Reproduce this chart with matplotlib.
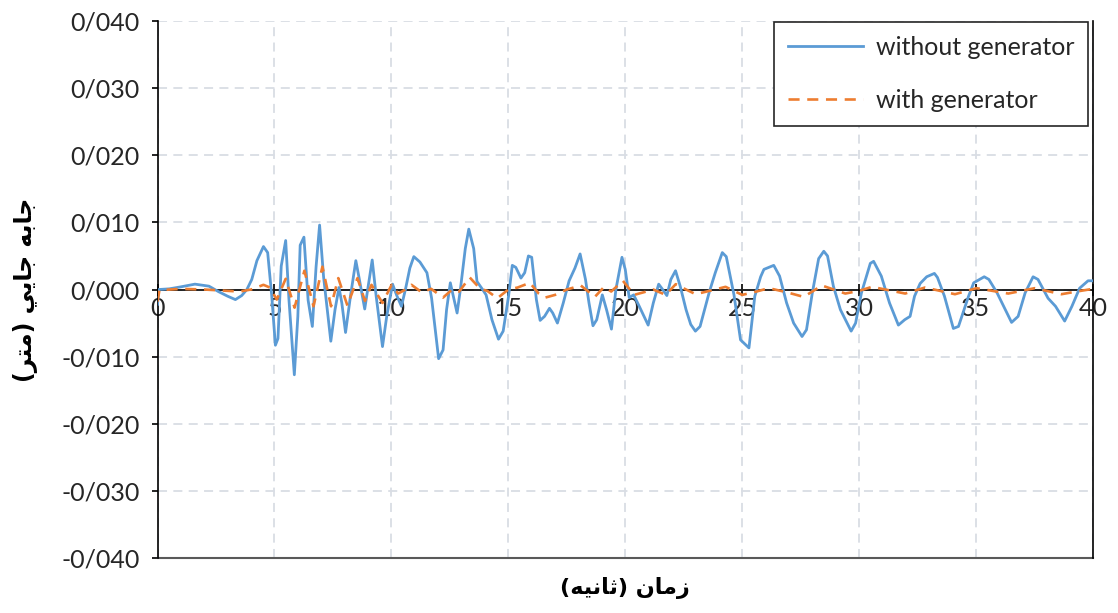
import numpy as np
import matplotlib.pyplot as plt
from matplotlib.ticker import FuncFormatter, MultipleLocator

# Jabejayi (m) - bedun-e va ba generator
t_without = [0, 0.05, 0.5, 1.0, 1.6, 2.2, 2.6, 3.0, 3.33, 3.6, 3.82, 4.03, 4.25, 4.53, 4.71,
             4.88, 5.04, 5.15, 5.29, 5.48, 5.62, 5.85, 6.0, 6.1, 6.26, 6.44, 6.62, 6.78, 6.93,
             7.1, 7.41, 7.59, 7.76, 7.88, 8.04, 8.25, 8.48, 8.61, 8.86, 9.18, 9.35, 9.62, 9.8,
             10.05, 10.22, 10.43, 10.6, 10.79, 10.96, 11.22, 11.52, 11.72, 12.02, 12.21, 12.36,
             12.52, 12.81, 12.95, 13.16, 13.31, 13.52, 13.66, 13.9, 14.05, 14.3, 14.58, 14.78,
             15.01, 15.17, 15.32, 15.54, 15.7, 15.86, 16.0, 16.2, 16.36, 16.55, 16.76, 16.9,
             17.1, 17.35, 17.6, 17.85, 18.07, 18.3, 18.45, 18.62, 18.78, 19.02, 19.2, 19.41,
             19.6, 19.86, 20.0, 20.17, 20.36, 20.6, 20.98, 21.2, 21.43, 21.6, 21.78, 21.95,
             22.15, 22.35, 22.6, 22.8, 23.0, 23.2, 23.6, 23.85, 24.15, 24.32, 24.65, 24.93,
             25.29, 25.54, 25.79, 25.93, 26.35, 26.6, 26.9, 27.2, 27.56, 27.75, 28.0, 28.27,
             28.49, 28.65, 28.9, 29.2, 29.66, 29.85, 30.1, 30.48, 30.62, 30.95, 31.3, 31.68,
             31.95, 32.18, 32.37, 32.61, 32.89, 33.22, 33.35, 33.65, 34.03, 34.25, 34.67, 34.9,
             35.35, 35.55, 35.9, 36.52, 36.8, 37.1, 37.44, 37.65, 38.08, 38.4, 38.79, 39.1,
             39.43, 39.79, 40.0]
d_without = [-0.0022, 0.0, 0.0001, 0.0004, 0.0008, 0.0005, -0.0003, -0.0010, -0.0015, -0.0009,
             0.0, 0.0015, 0.0043, 0.0064, 0.0055, -0.0008, -0.0083, -0.0073, 0.0035, 0.0073,
             -0.0015, -0.0127, -0.0040, 0.0066, 0.0078, -0.0016, -0.0055, 0.0034, 0.0096,
             0.0019, -0.0077, -0.0030, 0.0003, -0.0020, -0.0064, -0.0010, 0.0043, 0.0019,
             -0.0029, 0.0044, -0.0010, -0.0085, -0.0040, 0.0008, -0.0008, -0.0025, 0.0, 0.0032,
             0.0049, 0.0041, 0.0025, -0.0013, -0.0103, -0.0090, -0.0030, 0.0010, -0.0035, 0.0,
             0.0061, 0.0090, 0.0061, 0.0012, 0.0, -0.0008, -0.0045, -0.0074, -0.0062, -0.0010,
             0.0036, 0.0033, 0.0017, 0.0025, 0.0050, 0.0048, -0.0015, -0.0046, -0.0040,
             -0.0028, -0.0035, -0.0050, -0.0020, 0.0013, 0.0032, 0.0053, 0.0015, -0.0020,
             -0.0054, -0.0045, -0.0008, -0.0030, -0.0059, 0.0, 0.0048, 0.0030, -0.0012,
             -0.0008, -0.0025, -0.0053, -0.0020, 0.0008, 0.0, -0.0009, 0.0015, 0.0028, 0.0005,
             -0.0030, -0.0052, -0.0062, -0.0055, -0.0003, 0.0025, 0.0055, 0.0049, -0.0008,
             -0.0075, -0.0087, -0.0010, 0.0019, 0.0030, 0.0036, 0.0020, -0.0020, -0.0050,
             -0.0070, -0.0060, -0.0005, 0.0046, 0.0057, 0.0050, 0.0005, -0.0030, -0.0062,
             -0.0050, -0.0005, 0.0039, 0.0042, 0.0020, -0.0020, -0.0053, -0.0045, -0.0040,
             -0.0010, 0.0009, 0.0019, 0.0024, 0.0018, -0.0010, -0.0058, -0.0055, -0.0011,
             0.0010, 0.0019, 0.0015, -0.0005, -0.0049, -0.0040, -0.0005, 0.0019, 0.0015,
             -0.0013, -0.0025, -0.0047, -0.0025, 0.0002, 0.0013, 0.0013]

t_with = [0, 0.08, 1.0, 2.0, 3.0, 3.5, 4.0, 4.53, 4.8, 5.1, 5.48, 5.86, 6.28, 6.67, 7.05, 7.42,
          7.73, 8.12, 8.55, 8.87, 9.15, 9.62, 10.01, 10.29, 10.55, 10.86, 11.29, 11.7, 12.21,
          12.6, 12.9, 13.35, 13.8, 14.1, 14.53, 15.0, 15.4, 15.92, 16.3, 16.58, 17.0, 17.5,
          18.1, 18.7, 19.1, 19.4, 19.9, 20.38, 20.8, 21.2, 21.73, 22.16, 22.6, 23.01, 23.6,
          24.29, 25.0, 25.5, 26.14, 26.9, 27.63, 28.41, 29.41, 30.0, 30.55, 31.97, 32.82,
          34.1, 35.02, 36.38, 37.51, 38.65, 39.3, 40.0]
d_with = [-0.0018, -0.0001, 0.0001, 0.0, -0.0002, -0.0003, 0.0, 0.0007, 0.0003, -0.0015,
          0.0016, -0.0027, 0.0028, -0.0025, 0.0034, -0.0025, 0.0017, -0.0024, 0.0017, -0.0017,
          0.0007, -0.0020, 0.0007, -0.0006, -0.0001, 0.0007, -0.0004, 0.0001, -0.0012, 0.0,
          -0.0003, 0.0018, 0.0001, -0.0002, -0.0013, 0.0, 0.0003, 0.0010, -0.0006, -0.0012,
          -0.0008, 0.0, 0.0006, -0.0011, 0.0004, -0.0003, 0.0013, -0.0008, -0.0004, 0.0,
          -0.0008, 0.0008, 0.0, -0.0007, -0.0002, 0.0004, -0.0008, -0.0004, 0.0002, -0.0004,
          -0.0011, 0.0006, -0.0006, -0.0002, 0.0004, -0.0006, 0.0003, -0.0007, 0.0002,
          -0.0006, 0.0002, -0.0007, -0.0003, 0.0001]

x_label = 'زمان (ثانیه)'
y_label = 'جابه جایی (متر)'
series_names = ['without generator', 'with generator']

# shekl-e horoof-e farsi (matplotlib khodesh horoof ra be ham nemichasbanad)
FORMS = {
    'ا': ('\uFE8D', '\uFE8E', None, None),
    'ب': ('\uFE8F', '\uFE90', '\uFE91', '\uFE92'),
    'ت': ('\uFE95', '\uFE96', '\uFE97', '\uFE98'),
    'ث': ('\uFE99', '\uFE9A', '\uFE9B', '\uFE9C'),
    'ج': ('\uFE9D', '\uFE9E', '\uFE9F', '\uFEA0'),
    'ر': ('\uFEAD', '\uFEAE', None, None),
    'ز': ('\uFEAF', '\uFEB0', None, None),
    'م': ('\uFEE1', '\uFEE2', '\uFEE3', '\uFEE4'),
    'ن': ('\uFEE5', '\uFEE6', '\uFEE7', '\uFEE8'),
    'ه': ('\uFEE9', '\uFEEA', '\uFEEB', '\uFEEC'),
    'ی': ('\uFEF1', '\uFEF2', '\uFEF3', '\uFEF4'),
}


def shape(s):
    out = []
    for i, ch in enumerate(s):
        if ch not in FORMS:
            out.append(ch)
            continue
        iso, fin, ini, med = FORMS[ch]
        prev = s[i - 1] if i > 0 else ''
        nxt = s[i + 1] if i + 1 < len(s) else ''
        join_prev = prev in FORMS and FORMS[prev][2] is not None
        join_next = nxt in FORMS and ini is not None
        if join_prev and join_next:
            out.append(med)
        elif join_prev:
            out.append(fin)
        elif join_next:
            out.append(ini)
        else:
            out.append(iso)
    vis = ''.join(reversed(out))
    return vis.translate(str.maketrans('()', ')('))


plt.rcParams['font.family'] = ['Lato', 'DejaVu Sans']

fig = plt.figure(figsize=(11.18, 6.13), dpi=100)
ax = fig.add_axes([0.1409, 0.0897, 0.8367, 0.876])

ax.plot(t_without, d_without, color='#5B9BD5', lw=2.0, label=series_names[0], zorder=3)
ax.plot(t_with, d_with, color='#ED7D31', lw=1.9, dashes=(4.2, 2.9),
        label=series_names[1], zorder=4)

ax.set_xlim(0, 40)
ax.set_ylim(-0.04, 0.04)
ax.xaxis.set_major_locator(MultipleLocator(5))
ax.yaxis.set_major_locator(MultipleLocator(0.01))


def fmt_y(v, pos):
    if abs(v) < 1e-9:
        v = 0.0
    return f'{v:.3f}'.replace('.', '/')


ax.yaxis.set_major_formatter(FuncFormatter(fmt_y))
ax.xaxis.set_major_formatter(FuncFormatter(lambda v, p: f'{v:g}'))

ax.grid(True, color='#D9DDE4', lw=1.3, dashes=(5, 3.5), zorder=0)
ax.set_axisbelow(True)

# mehvar-e x ruye khat-e sefr
ax.spines['bottom'].set_position(('data', 0))
ax.spines['bottom'].set_color('black')
ax.spines['bottom'].set_linewidth(1.2)
ax.spines['bottom'].set_zorder(2)
ax.spines['top'].set_visible(False)
ax.spines['left'].set_color('black')
ax.spines['left'].set_linewidth(1.2)
ax.spines['right'].set_color('black')
ax.spines['right'].set_linewidth(1.2)
ax.axhline(-0.04, color='#595959', lw=1.5, clip_on=False, zorder=2)

ax.tick_params(axis='x', direction='inout', length=9, width=1.2, pad=1,
               labelsize=18, colors='black')
ax.tick_params(axis='y', direction='out', length=4, width=1.2, pad=9,
               labelsize=18, colors='#000000')
for lbl in ax.get_xticklabels() + ax.get_yticklabels():
    lbl.set_color('#262626')

ax.set_xlabel(shape(x_label), family=['DejaVu Sans'], fontweight='bold', fontsize=16)
ax.xaxis.set_label_coords(0.5, -0.035)
ax.set_ylabel(shape(y_label), family=['DejaVu Sans'], fontweight='bold', fontsize=17)
ax.yaxis.set_label_coords(-0.128, 0.5)

leg = ax.legend(loc='upper right', bbox_to_anchor=(0.9947, 0.998), borderaxespad=0,
                fontsize=18, frameon=True, fancybox=False, edgecolor='#262626',
                framealpha=1, handlelength=3.0, labelspacing=1.2, borderpad=0.55,
                handletextpad=0.5)
leg.get_frame().set_linewidth(1.2)
for txt in leg.get_texts():
    txt.set_color('#262626')

fig.savefig('out.png', dpi=100)
